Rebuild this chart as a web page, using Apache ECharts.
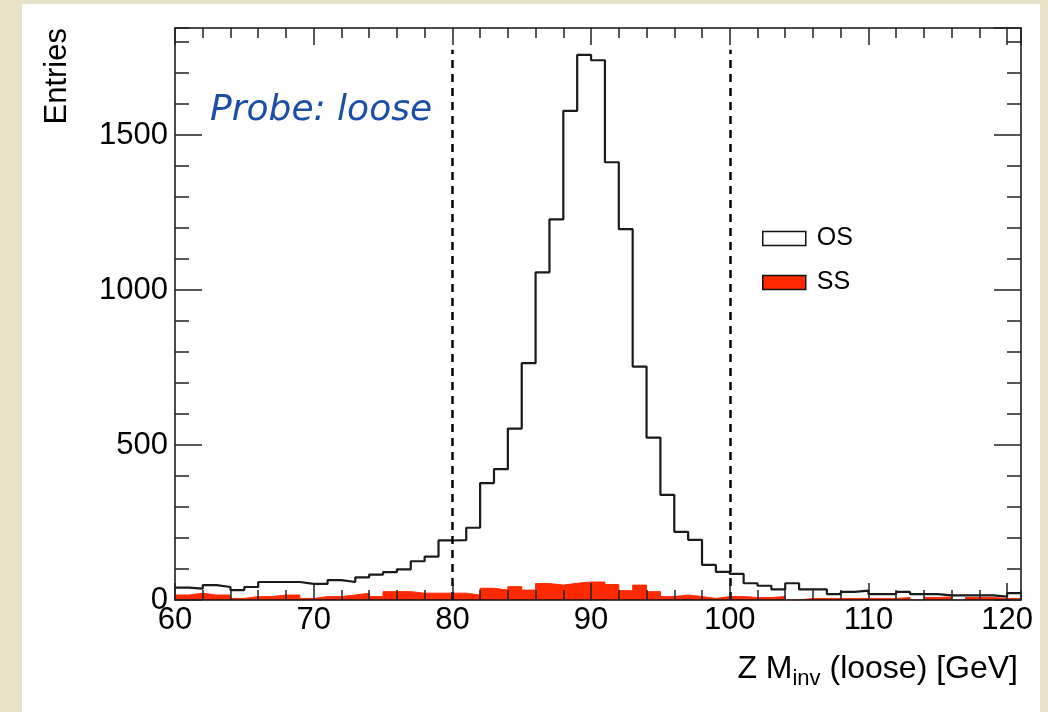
<!DOCTYPE html>
<html>
<head>
<meta charset="utf-8">
<script src="https://cdn.jsdelivr.net/npm/echarts@6/dist/echarts.min.js"></script>
<style>
html,body{margin:0;padding:0;background:#e8e2c8;}
#chart{width:1048px;height:712px;}
</style>
</head>
<body>
<div id="chart"></div>
<script>
// Bin low edges (GeV), 1 GeV bins from 60 to 121
const binEdges = [60,61,62,63,64,65,66,67,68,69,70,71,72,73,74,75,76,77,78,79,80,81,82,83,84,85,86,87,88,89,90,91,92,93,94,95,96,97,98,99,100,101,102,103,104,105,106,107,108,109,110,111,112,113,114,115,116,117,118,119,120];
const binUpper = 121;
// Opposite-sign pairs
const osValues = [40,37,48,42,32,42,58,58,58,52,52,64,58,73,82,90,99,125,140,192,193,233,377,422,553,764,1057,1228,1578,1758,1741,1412,1196,753,524,339,220,194,113,91,84,54,46,34,54,34,34,19,26,30,19,19,26,19,19,15,15,15,15,11,22];
// Same-sign pairs
const ssValues = [16,22,16,16,5,11,11,16,16,5,11,11,16,22,11,27,27,22,22,22,22,16,38,32,43,32,53,48,54,58,58,50,30,48,27,11,16,11,5,11,11,8,8,11,0,5,5,5,5,5,5,5,8,0,8,10,0,8,8,5,5];
const seriesNames = ['OS', 'SS'];
const cutLines = [80, 100];
const cutTop = 1775;
const xTicks = {min: 60, max: 121, major: 10, minor: 2};
const yTicks = {min: 0, max: 1845, major: 500, minor: 100};
const xTitle = {main: 'Z M', sub: 'inv', rest: ' (loose) [GeV]'};
const yTitle = 'Entries';
const probeText = 'Probe: loose';

const FONT = '"Liberation Sans", Arial, Helvetica, sans-serif';
const RED = '#ff2a00';

function toSteps(vals) {
  const pts = binEdges.map((x, i) => [x, vals[i]]);
  pts.push([binUpper, vals[vals.length - 1]]);
  return pts;
}
const plain = v => String(v);

function mkX(position, interval, tickLen, labels, line) {
  return {
    type: 'value', position: position, min: xTicks.min, max: xTicks.max, interval: interval,
    z: 5,
    axisLine: {show: line, onZero: false, lineStyle: {color: '#111', width: 1.5}},
    axisTick: {show: true, inside: true, length: tickLen, lineStyle: {color: '#222', width: 1.5}},
    axisLabel: {show: labels, color: '#000', fontSize: 31, fontFamily: FONT, margin: 5, showMaxLabel: false, formatter: plain},
    splitLine: {show: false}
  };
}
function mkY(position, interval, tickLen, labels, line) {
  return {
    type: 'value', position: position, min: yTicks.min, max: yTicks.max, interval: interval,
    z: 5,
    axisLine: {show: line, onZero: false, lineStyle: {color: '#111', width: 1.5}},
    axisTick: {show: true, inside: true, length: tickLen, lineStyle: {color: '#222', width: 1.5}},
    axisLabel: {show: labels, color: '#000', fontSize: 31, fontFamily: FONT, margin: 7, showMaxLabel: false, formatter: plain},
    splitLine: {show: false}
  };
}

const chart = echarts.init(document.getElementById('chart'), null, {renderer: 'canvas'});
chart.setOption({
  animation: false,
  backgroundColor: 'transparent',
  grid: {left: 175, right: 27, top: 28, bottom: 112, containLabel: false},
  xAxis: [
    mkX('bottom', xTicks.major, 17, true, true),
    mkX('bottom', xTicks.minor, 10, false, false),
    mkX('top', xTicks.major, 17, false, true),
    mkX('top', xTicks.minor, 10, false, false)
  ],
  yAxis: [
    mkY('left', yTicks.major, 27, true, true),
    mkY('left', yTicks.minor, 14, false, false),
    mkY('right', yTicks.major, 27, false, true),
    mkY('right', yTicks.minor, 14, false, false)
  ],
  legend: {
    left: 757, top: 221, orient: 'vertical', itemWidth: 43, itemHeight: 14, itemGap: 19,
    selectedMode: false,
    itemStyle: {borderColor: '#111', borderWidth: 1.5},
    textStyle: {fontSize: 25, fontFamily: FONT, color: '#000', padding: [0, 0, 0, 6]},
    data: [
      {name: seriesNames[0], icon: 'rect', itemStyle: {color: '#ffffff', borderColor: '#111', borderWidth: 1.5}},
      {name: seriesNames[1], icon: 'rect', itemStyle: {color: RED, borderColor: '#111', borderWidth: 1.5}}
    ]
  },
  graphic: [
    {type: 'rect', z: -10, silent: true, shape: {x: 22, y: 4, width: 1018, height: 708}, style: {fill: '#ffffff'}},
    {type: 'text', x: 57, y: 28, rotation: Math.PI / 2, z: 10,
     style: {text: yTitle, fill: '#000', font: '31px ' + FONT, align: 'right', verticalAlign: 'middle'}},
    {type: 'text', x: 1018, y: 669, z: 10,
     style: {
       text: '{a|' + xTitle.main + '}{s|' + xTitle.sub + '}{a|' + xTitle.rest + '}',
       align: 'right', verticalAlign: 'middle',
       rich: {
         a: {fontSize: 32, fontFamily: FONT, fill: '#000', lineHeight: 36, verticalAlign: 'middle'},
         s: {fontSize: 22, fontFamily: FONT, fill: '#000', lineHeight: 36, padding: [20, 0, 0, 0], verticalAlign: 'middle'}
       }
     }},
    {type: 'text', x: 210, y: 111, z: 10,
     style: {text: probeText, fill: '#1b4ea6', font: 'italic 36px "DejaVu Sans", sans-serif', align: 'left', verticalAlign: 'middle'}}
  ],
  series: [
    {
      name: seriesNames[0], type: 'line', step: 'end', data: toSteps(osValues),
      showSymbol: false, symbol: 'none', z: 3,
      itemStyle: {color: '#ffffff', borderColor: '#111'},
      lineStyle: {color: '#1a1a1a', width: 2.2},
      markLine: {
        silent: true, symbol: 'none', label: {show: false},
        lineStyle: {color: '#000', width: 2.5, type: [8, 6]},
        data: cutLines.map(c => [{coord: [c, 0]}, {coord: [c, cutTop]}])
      }
    },
    {
      name: seriesNames[1], type: 'line', step: 'end', data: toSteps(ssValues),
      showSymbol: false, symbol: 'none', z: 4,
      itemStyle: {color: RED},
      lineStyle: {color: RED, width: 1},
      areaStyle: {color: RED, opacity: 1}
    }
  ]
});
</script>
</body>
</html>
